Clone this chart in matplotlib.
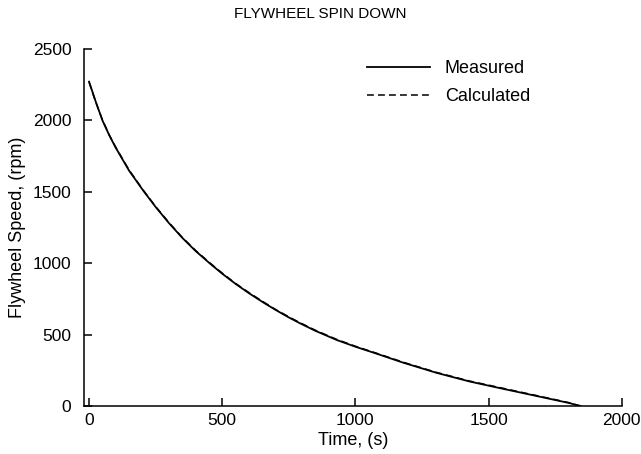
"""Flywheel spin-down: measured vs calculated speed."""
import matplotlib
matplotlib.use("Agg")
import matplotlib.pyplot as plt

plt.rcParams["font.family"] = ["Liberation Sans", "DejaVu Sans"]

# values
time_s = [0, 25, 50, 75, 100, 150, 204, 250, 300, 350, 400, 454, 500, 550,
          600, 654, 700, 750, 792, 850, 930, 1000, 1080, 1180, 1305, 1430,
          1555, 1643, 1730, 1800, 1845]
measured = [2270, 2130, 2000, 1898, 1808, 1648, 1506, 1393, 1280, 1177,
            1085, 997, 926, 855, 790, 725, 673, 620, 579, 526, 462, 415,
            366, 303, 232, 171, 120, 85, 50, 22, 0]
calculated = [2266, 2128, 2004, 1900, 1812, 1652, 1509, 1396, 1284, 1180,
              1089, 1001, 930, 858, 794, 729, 676, 624, 583, 530, 466, 418,
              369, 306, 235, 174, 124, 88, 53, 24, 0]

x_ticks = [0, 500, 1000, 1500, 2000]
y_ticks = [0, 500, 1000, 1500, 2000, 2500]

fig = plt.figure(figsize=(6.41, 4.54), dpi=100)
ax = fig.add_axes([84 / 641, 48 / 454, 537.7 / 641, 357.2 / 454])

ax.plot(time_s, calculated, "--", color="black", lw=1.1, dashes=(4.5, 2.7),
        label="Calculated")
ax.plot(time_s, measured, "-", color="black", lw=1.3, label="Measured")

ax.set_xlim(-19, 2000)
ax.set_ylim(0, 2500)
ax.set_xticks(x_ticks)
ax.set_yticks(y_ticks)

for side in ("top", "right"):
    ax.spines[side].set_visible(False)
for side in ("left", "bottom"):
    ax.spines[side].set_linewidth(1.1)

ax.tick_params(axis="y", direction="in", length=6, width=1.1, pad=9,
               labelsize=12.5)
ax.tick_params(axis="x", direction="in", length=6, width=1.1, pad=5,
               labelsize=12.5)

ax.set_xlabel("Time, (s)", fontsize=13, labelpad=3)
ax.set_ylabel("Flywheel Speed, (rpm)", fontsize=13, labelpad=5)
fig.text(0.5, 1 - 14 / 454, "FLYWHEEL SPIN DOWN", ha="center", va="center",
         fontsize=11)

handles, labels = ax.get_legend_handles_labels()
ax.legend(handles[::-1], labels[::-1], loc="upper left",
          bbox_to_anchor=(367 / 641, 1 - 60 / 454),
          bbox_transform=fig.transFigure, frameon=False, fontsize=13,
          handlelength=3.5, handletextpad=0.8, labelspacing=0.6,
          borderpad=0, borderaxespad=0)

fig.savefig("out.png", dpi=100)
